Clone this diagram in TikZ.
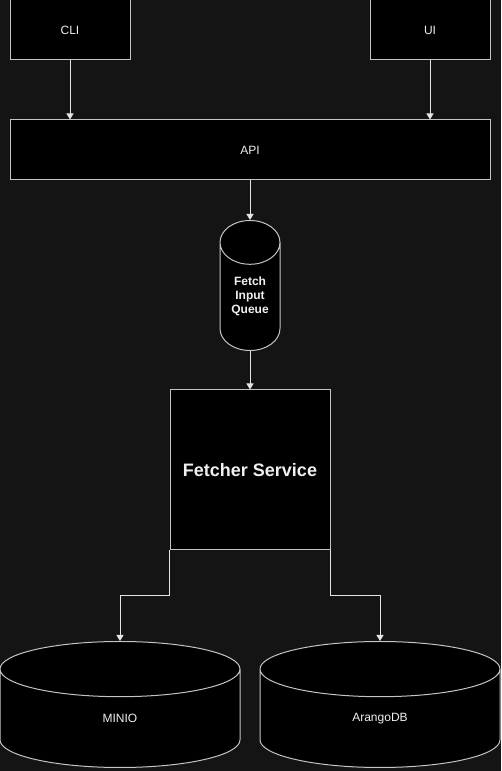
\documentclass[tikz,border=0pt]{standalone}
\usepackage{fontspec}
\setmainfont{Liberation Sans}
\usepackage{xcolor}
\usetikzlibrary{shapes.geometric,arrows.meta}
\definecolor{bgdark}{HTML}{141414}
\definecolor{boxline}{HTML}{C4C4C4}
\definecolor{arrline}{HTML}{E4E4E4}
\definecolor{txt}{HTML}{F0F0F0}

\tikzset{
  box/.style={draw=boxline, fill=black, line width=1pt, text=txt, font=\fontsize{12}{14}\selectfont, inner sep=0pt},
  store/.style={box, cylinder, shape border rotate=90, aspect=#1, align=center, anchor=top},
  arr/.style={draw=arrline, line width=1pt, -{Triangle[width=7pt,length=6pt]}},
}

\begin{document}
\begin{tikzpicture}[x=1pt, y=1pt]
\fill[bgdark] (0,0) rectangle (501,771);
\useasboundingbox (0,0) rectangle (501,771);

% clients
\node[box, minimum width=120pt, minimum height=60pt] (cli) at (70,741) {CLI};
\node[box, minimum width=120pt, minimum height=60pt] (ui) at (430,741) {UI};
\node[box, minimum width=480pt, minimum height=60pt] (api) at (250,621) {API};

% queue and service
\node[store=0.73, text width=60pt, minimum height=130pt,
  font=\bfseries\fontsize{12}{14}\selectfont] (queue) at (250,551)
  {Fetch\\Input\\Queue};
\node[box, minimum width=160pt, minimum height=160pt,
  font=\bfseries\fontsize{18}{22}\selectfont] (fetcher) at (250,301) {Fetcher Service};

% storage
\node[store=0.23, text width=240pt, minimum height=126pt] (minio) at (120,130) {MINIO};
\node[store=0.23, text width=240pt, minimum height=126pt] (arango) at (380,130) {ArangoDB};

\draw[arr] (cli.south) -- (api.north -| cli.south);
\draw[arr] (ui.south) -- (api.north -| ui.south);
\draw[arr] (api.south) -- (queue.top);
\draw[arr] (queue.bottom) -- (fetcher.north);
\draw[arr] (fetcher.south west) -- ++(0,-45) -| (minio.top);
\draw[arr] (fetcher.south east) -- ++(0,-45) -| (arango.top);

\end{tikzpicture}
\end{document}
